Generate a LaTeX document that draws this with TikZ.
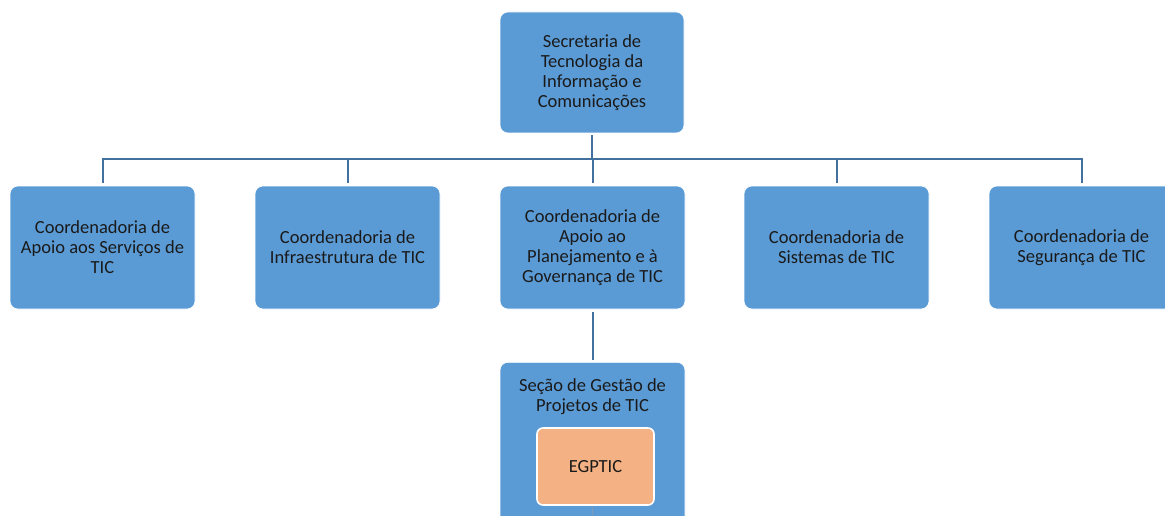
\documentclass[tikz,border=0pt]{standalone}
\usepackage{fontspec}
\setmainfont{Carlito}
\definecolor{boxblue}{HTML}{5B9BD5}
\definecolor{linkblue}{HTML}{41719C}
\definecolor{egporange}{HTML}{F4B183}
\definecolor{txtcol}{HTML}{1A1A1A}
\begin{document}
\begin{tikzpicture}[x=1pt,y=-1pt,
  orgbox/.style={rectangle, rounded corners=8pt, fill=boxblue, draw=white, line width=0.6pt,
    minimum width=185pt, minimum height=123pt, align=center, text=txtcol,
    font=\fontsize{18.5}{20}\selectfont, inner sep=2pt},
  orglabel/.style={align=center, text=txtcol, font=\fontsize{18.5}{20}\selectfont, inner sep=0pt},
  subbox/.style={rectangle, rounded corners=6pt, fill=egporange, draw=white, line width=1.6pt,
    minimum width=117pt, minimum height=77pt, text=txtcol, font=\fontsize{18.5}{20}\selectfont},
  link/.style={draw=linkblue, line width=2pt}]
\useasboundingbox (0,0) rectangle (1165,516);
\clip (0,0) rectangle (1165,516);

\node[orgbox, minimum width=184pt, minimum height=121pt] (top) at (592,72.5)
  {Secretaria de\\Tecnologia da\\Informação e\\Comunicações};

\node[orgbox] (c1) at (102.5,247.5) {Coordenadoria de\\Apoio aos Serviços de\\TIC};
\node[orgbox] (c2) at (347.5,247.5) {Coordenadoria de\\Infraestrutura de TIC};
\node[orgbox] (c3) at (592.5,247.5) {Coordenadoria de\\Apoio ao\\Planejamento e à\\Governança de TIC};
\node[orgbox] (c4) at (836.5,247.5) {Coordenadoria de\\Sistemas de TIC};
\node[orgbox] (c5) at (1081.5,247.5) {Coordenadoria de\\Segurança de TIC};

\node[orgbox, minimum height=175pt, anchor=north] (secao) at (592.5,362) {};
\node[orglabel] (secaolbl) at (592.5,397) {Seção de Gestão de\\Projetos de TIC};
\node[subbox] (egptic) at (595.5,466.5) {EGPTIC};
\coordinate (bottomend) at (592.5,520);

\foreach \c in {c1,c2,c3,c4,c5}{
  \draw[link, shorten <=2pt, shorten >=3pt] (top.south) -- ++(0,26) -| (\c.north);
}
\draw[link, shorten <=3pt, shorten >=2pt] (c3.south) -- (secao.north);
\draw[link, line width=1.2pt, draw=linkblue!70] (egptic.south -| secao.north) ++(0,1.5) -- (bottomend);
\end{tikzpicture}
\end{document}
